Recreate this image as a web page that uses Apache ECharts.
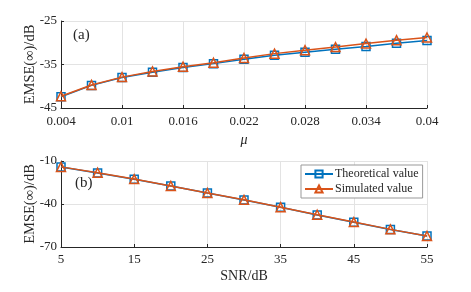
<!DOCTYPE html>
<html>
<head>
<meta charset="utf-8">
<script src="https://cdn.jsdelivr.net/npm/echarts@6/dist/echarts.min.js"></script>
<style>html,body{margin:0;padding:0;background:#fff}#c{width:471px;height:292px}</style>
</head>
<body>
<div id="c"></div>
<script>
// Panel (a): EMSE vs step size mu
const muValues = [0.004, 0.007, 0.010, 0.013, 0.016, 0.019, 0.022, 0.025, 0.028, 0.031, 0.034, 0.037, 0.040];
const theoryA = [-42.4, -39.8, -38.0, -36.8, -35.7, -34.8, -33.8, -32.9, -32.2, -31.5, -30.85, -30.1, -29.5];
const simA    = [-42.3, -39.7, -37.9, -36.6, -35.5, -34.6, -33.5, -32.5, -31.7, -31.0, -30.2, -29.4, -28.8];
// Panel (b): EMSE vs SNR
const snrValues = [5, 10, 15, 20, 25, 30, 35, 40, 45, 50, 55];
const theoryB = [-14.2, -18.3, -22.7, -27.5, -32.4, -37.2, -42.3, -47.6, -52.7, -57.8, -62.4];
const simB    = [-14.1, -18.2, -22.6, -27.4, -32.3, -37.1, -42.2, -47.5, -52.6, -57.7, -62.3];
const seriesNames = ['Theoretical value', 'Simulated value'];

const FONT = 'Liberation Serif';
const BLUE = '#0072BD', ORANGE = '#D95319';
const axisLine = {show: true, lineStyle: {color: '#262626', width: 1}};
const axisTick = {show: true, inside: true, length: 3, lineStyle: {color: '#262626'}};
const splitLine = {show: true, lineStyle: {color: '#e3e3e3', width: 1}};
const lbl = {color: '#262626', fontFamily: FONT, fontSize: 13};

function mkSeries(name, xs, ys, xi, yi, isTheory) {
  return {
    name: name, type: 'line', xAxisIndex: xi, yAxisIndex: yi,
    data: xs.map((x, i) => [x, ys[i]]),
    symbol: isTheory ? 'rect' : 'triangle',
    symbolSize: isTheory ? 8 : 9,
    lineStyle: {color: isTheory ? BLUE : ORANGE, width: 1.5},
    itemStyle: {color: 'rgba(255,255,255,0)', borderColor: isTheory ? BLUE : ORANGE, borderWidth: 1.5},
    z: isTheory ? 2 : 3,
    animation: false
  };
}

const chart = echarts.init(document.getElementById('c'), null, {renderer: 'canvas'});
chart.setOption({
  animation: false,
  backgroundColor: '#fff',
  grid: [
    {left: 61, top: 21, width: 366, height: 87},
    {left: 61, top: 161, width: 366, height: 86}
  ],
  xAxis: [
    {type: 'value', gridIndex: 0, min: 0.004, max: 0.04, interval: 0.006,
     name: 'μ', nameLocation: 'middle', nameGap: 25, nameMoveOverlap: false,
     nameTextStyle: {fontFamily: FONT, fontSize: 14, fontStyle: 'italic', color: '#262626'},
     axisLine, axisTick, splitLine,
     axisLabel: Object.assign({margin: 7, formatter: v => String(parseFloat(v.toFixed(3)))}, lbl)},
    {type: 'value', gridIndex: 1, min: 5, max: 55, interval: 10,
     name: 'SNR/dB', nameLocation: 'middle', nameGap: 22, nameMoveOverlap: false,
     nameTextStyle: {fontFamily: FONT, fontSize: 14, color: '#262626'},
     axisLine, axisTick, splitLine,
     axisLabel: Object.assign({margin: 6}, lbl)}
  ],
  yAxis: [
    {type: 'value', gridIndex: 0, min: -45, max: -25, interval: 10,
     name: 'EMSE(∞)/dB', nameLocation: 'middle', nameGap: 23, nameMoveOverlap: false,
     nameTextStyle: {fontFamily: FONT, fontSize: 14.5, color: '#262626'},
     axisLine, axisTick, splitLine,
     axisLabel: Object.assign({margin: 4}, lbl)},
    {type: 'value', gridIndex: 1, min: -70, max: -10, interval: 30,
     name: 'EMSE(∞)/dB', nameLocation: 'middle', nameGap: 23, nameMoveOverlap: false,
     nameTextStyle: {fontFamily: FONT, fontSize: 14.5, color: '#262626'},
     axisLine, axisTick, splitLine,
     axisLabel: Object.assign({margin: 4}, lbl)}
  ],
  legend: {
    data: seriesNames, orient: 'vertical', left: 301, top: 165,
    itemWidth: 28, itemHeight: 9, itemGap: 3,
    padding: [3, 4, 3, 3],
    backgroundColor: '#fff', borderColor: '#999', borderWidth: 1,
    textStyle: {fontFamily: FONT, fontSize: 12, color: '#262626', padding: [0, 0, 0, -3]}
  },
  graphic: [
    {type: 'text', left: 73, top: 28, style: {text: '(a)', font: '15px "Liberation Serif"', fill: '#262626'}},
    {type: 'text', left: 75, top: 176, style: {text: '(b)', font: '15px "Liberation Serif"', fill: '#262626'}}
  ],
  series: [
    mkSeries(seriesNames[0], muValues, theoryA, 0, 0, true),
    mkSeries(seriesNames[1], muValues, simA, 0, 0, false),
    mkSeries(seriesNames[0], snrValues, theoryB, 1, 1, true),
    mkSeries(seriesNames[1], snrValues, simB, 1, 1, false)
  ]
});
</script>
</body>
</html>
